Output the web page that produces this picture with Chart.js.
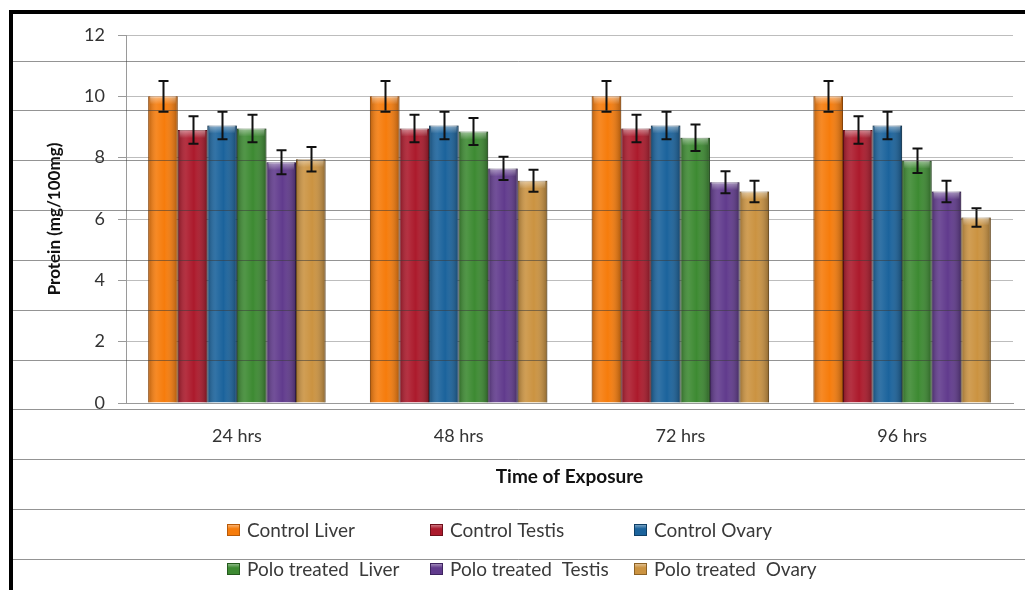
<!DOCTYPE html>
<html>
<head>
<meta charset="utf-8">
<script src="https://cdn.jsdelivr.net/npm/chart.js@4.4.1/dist/chart.umd.min.js"></script>
<style>
  html, body { margin: 0; padding: 0; background: #fff; }
  #wrap { width: 1025px; height: 590px; position: relative; }
</style>
</head>
<body>
<div id="wrap"><canvas id="protein-chart"></canvas></div>
<script>
const categories = ['24 hrs', '48 hrs', '72 hrs', '96 hrs'];
const seriesNames = ['Control Liver', 'Control Testis', 'Control Ovary',
  'Polo treated  Liver', 'Polo treated  Testis', 'Polo treated  Ovary'];

const controlLiver  = [10.0, 10.0, 10.0, 10.0];
const controlTestis = [8.9, 8.95, 8.95, 8.9];
const controlOvary  = [9.05, 9.05, 9.05, 9.05];
const poloLiver     = [8.95, 8.85, 8.65, 7.9];
const poloTestis    = [7.85, 7.65, 7.2, 6.9];
const poloOvary     = [7.95, 7.25, 6.9, 6.05];

const controlLiverErr  = [0.5, 0.5, 0.5, 0.5];
const controlTestisErr = [0.45, 0.45, 0.45, 0.45];
const controlOvaryErr  = [0.45, 0.45, 0.45, 0.45];
const poloLiverErr     = [0.45, 0.44, 0.43, 0.4];
const poloTestisErr    = [0.39, 0.38, 0.36, 0.35];
const poloOvaryErr     = [0.4, 0.36, 0.35, 0.3];

const yTicks = [0, 2, 4, 6, 8, 10, 12];

const seriesValues = [controlLiver, controlTestis, controlOvary, poloLiver, poloTestis, poloOvary];
const seriesErrors = [controlLiverErr, controlTestisErr, controlOvaryErr, poloLiverErr, poloTestisErr, poloOvaryErr];
const barColors  = ['#F67C0C', '#AC1A2C', '#1B639C', '#3D8A32', '#613B8D', '#CB9341'];
const edgeColors = ['#B85A08', '#6E0F1A', '#0F3F66', '#255A1E', '#3E2460', '#8C6226'];

const FONT = 'Lato, "Open Sans", sans-serif';

// extra drawing: shading on bars, error bars, ruled page lines, border, legend
const decorPlugin = {
  id: 'decor',
  beforeDraw(chart) {
    const ctx = chart.ctx;
    ctx.save();
    ctx.fillStyle = '#fff';
    ctx.fillRect(0, 0, chart.width, chart.height);
    ctx.restore();
  },
  afterDatasetsDraw(chart) {
    const ctx = chart.ctx;
    const yScale = chart.scales.y;
    ctx.save();
    chart.data.datasets.forEach((ds, di) => {
      const meta = chart.getDatasetMeta(di);
      meta.data.forEach((bar) => {
        const left = bar.x - bar.width / 2;
        const right = bar.x + bar.width / 2;
        const top = bar.y;
        const bottom = bar.base;
        // cylinder shading
        const g = ctx.createLinearGradient(left, 0, right, 0);
        g.addColorStop(0, 'rgba(0,0,0,0.25)');
        g.addColorStop(0.28, 'rgba(255,255,255,0.10)');
        g.addColorStop(0.55, 'rgba(255,255,255,0)');
        g.addColorStop(1, 'rgba(0,0,0,0.30)');
        ctx.fillStyle = g;
        ctx.fillRect(left, top, right - left, bottom - top);
        // top bevel highlight
        const h = ctx.createLinearGradient(0, top, 0, top + 8);
        h.addColorStop(0, 'rgba(255,255,255,0.45)');
        h.addColorStop(1, 'rgba(255,255,255,0)');
        ctx.fillStyle = h;
        ctx.fillRect(left + 2, top, right - left - 4, 8);
      });
    });
    // error bars
    ctx.strokeStyle = '#111';
    ctx.lineWidth = 2;
    chart.data.datasets.forEach((ds, di) => {
      const meta = chart.getDatasetMeta(di);
      meta.data.forEach((bar, i) => {
        const v = seriesValues[di][i];
        const e = seriesErrors[di][i];
        const yHi = yScale.getPixelForValue(v + e);
        const yLo = yScale.getPixelForValue(v - e);
        const x = Math.round(bar.x) + 0.5;
        ctx.beginPath();
        ctx.moveTo(x, yHi);
        ctx.lineTo(x, yLo);
        ctx.moveTo(x - 5, yHi);
        ctx.lineTo(x + 5, yHi);
        ctx.moveTo(x - 5, yLo);
        ctx.lineTo(x + 5, yLo);
        ctx.stroke();
      });
    });
    ctx.restore();
  },
  afterDraw(chart) {
    const ctx = chart.ctx;
    ctx.save();
    // ruled lines of the page behind the chart
    ctx.strokeStyle = 'rgba(60,60,60,0.55)';
    ctx.lineWidth = 1;
    [61, 110, 160, 210, 260, 310, 360, 409, 459, 509, 559].forEach(y => {
      ctx.beginPath();
      ctx.moveTo(12, y + 0.5);
      ctx.lineTo(chart.width, y + 0.5);
      ctx.stroke();
    });
    // thick border on top and left
    ctx.fillStyle = '#000';
    ctx.fillRect(9, 10, chart.width - 9, 4);
    ctx.fillRect(9, 10, 4, chart.height - 10);

    // legend, three columns by two rows
    const colX = [227, 430, 634];
    const rowY = [530, 569];
    ctx.font = '19px ' + FONT;
    ctx.textBaseline = 'middle';
    ctx.textAlign = 'left';
    seriesNames.forEach((name, i) => {
      const x = colX[i % 3];
      const y = rowY[Math.floor(i / 3)];
      const sg = ctx.createLinearGradient(0, y - 6, 0, y + 6);
      sg.addColorStop(0, 'rgba(255,255,255,0.5)');
      sg.addColorStop(0.4, 'rgba(255,255,255,0)');
      ctx.fillStyle = barColors[i];
      ctx.fillRect(x, y - 6, 13, 12);
      ctx.fillStyle = sg;
      ctx.fillRect(x, y - 6, 13, 12);
      ctx.strokeStyle = edgeColors[i];
      ctx.strokeRect(x + 0.5, y - 5.5, 12, 11);
      ctx.fillStyle = '#3a3a3a';
      ctx.fillText(name, x + 20, y + 1);
    });
    ctx.restore();
  }
};

const datasets = seriesNames.map((name, i) => ({
  label: name,
  data: seriesValues[i],
  backgroundColor: barColors[i],
  borderColor: edgeColors[i],
  borderWidth: 1,
  categoryPercentage: 0.8,
  barPercentage: 1.0
}));

new Chart(document.getElementById('protein-chart'), {
  type: 'bar',
  data: { labels: categories, datasets },
  options: {
    responsive: true,
    maintainAspectRatio: false,
    animation: false,
    devicePixelRatio: 1,
    layout: { padding: { left: 44, right: 12, top: 35, bottom: 102 } },
    plugins: {
      legend: { display: false },
      tooltip: { enabled: false }
    },
    scales: {
      x: {
        grid: { display: false, drawTicks: false },
        border: { color: '#9a9a9a', width: 1 },
        ticks: { color: '#333', padding: 22, font: { family: FONT, size: 18 } },
        title: {
          display: true,
          text: 'Time of Exposure',
          color: '#111',
          padding: 0,
          font: { family: FONT, size: 19, weight: 'bold' }
        },
        afterFit(scale) { scale.height = 85; }
      },
      y: {
        min: 0,
        max: 12,
        afterBuildTicks(scale) { scale.ticks = yTicks.map(v => ({ value: v })); },
        grid: { color: '#bdbdbd', tickLength: 8, tickColor: '#9a9a9a' },
        border: { color: '#9a9a9a', width: 1 },
        ticks: { color: '#333', padding: 13, font: { family: FONT, size: 18 } },
        title: {
          display: true,
          text: 'Protein (mg/100mg)',
          color: '#111',
          padding: 0,
          font: { family: FONT, size: 17, weight: 'bold' }
        },
        afterFit(scale) { scale.width = 82; }
      }
    }
  },
  plugins: [decorPlugin]
});
</script>
</body>
</html>
